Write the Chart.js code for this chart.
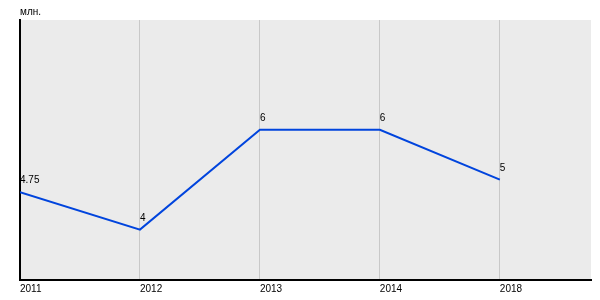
<!DOCTYPE html>
<html><head><meta charset="utf-8">
<script src="https://cdn.jsdelivr.net/npm/chart.js@4/dist/chart.umd.min.js"></script>
<style>html,body{margin:0;padding:0;background:#fff}#w{width:600px;height:300px}</style>
</head><body><div id="w"><canvas id="c"></canvas></div>
<script>
const years = ['2011', '2012', '2013', '2014', '2018'];
const values = [4.75, 4, 6, 6, 5];
const valueLabels = ['4.75', '4', '6', '6', '5'];
const unitLabel = 'млн.';

const bgPlugin = {
  id: 'bg',
  beforeDraw(chart) {
    const a = chart.chartArea, ctx = chart.ctx;
    ctx.save(); ctx.fillStyle = '#ebebeb';
    ctx.fillRect(a.left, a.top, a.right - a.left, a.bottom - a.top);
    ctx.restore();
  },
  afterDatasetsDraw(chart) {
    const ctx = chart.ctx, meta = chart.getDatasetMeta(0);
    ctx.save();
    ctx.font = '10px Arial, "Liberation Sans", sans-serif';
    ctx.fillStyle = '#000'; ctx.textAlign = 'left'; ctx.textBaseline = 'middle';
    meta.data.forEach((p, i) => ctx.fillText(valueLabels[i], p.x, p.y - 11.5));
    ctx.fillText(unitLabel, chart.chartArea.left, 12.5);
    ctx.restore();
  }
};

new Chart(document.getElementById('c'), {
  type: 'line',
  data: { datasets: [{ data: values.map((v, i) => ({ x: i, y: v })), borderColor: '#0044dd', borderWidth: 2, pointRadius: 0, tension: 0, fill: false }] },
  options: {
    responsive: true, maintainAspectRatio: false, animation: false,
    layout: { padding: { left: 20, top: 20, right: 9, bottom: 2 } },
    plugins: { legend: { display: false }, tooltip: { enabled: false } },
    scales: {
      x: {
        type: 'linear', min: 0, max: 4.76,
        afterBuildTicks(s) { s.ticks = years.map((_, i) => ({ value: i })); },
        ticks: { callback: (v) => years[v], color: '#000', font: { family: 'Arial, "Liberation Sans", sans-serif', size: 10 }, maxRotation: 0, autoSkip: false, padding: 3, align: 'start' },
        grid: { color: '#c8c8c8', lineWidth: 1, drawTicks: false },
        border: { color: '#000', width: 2 }
      },
      y: {
        min: 2.99, max: 8.2,
        ticks: { display: false },
        grid: { display: false, drawTicks: false },
        border: { color: '#000', width: 2 }
      }
    }
  },
  plugins: [bgPlugin]
});
</script></body></html>
